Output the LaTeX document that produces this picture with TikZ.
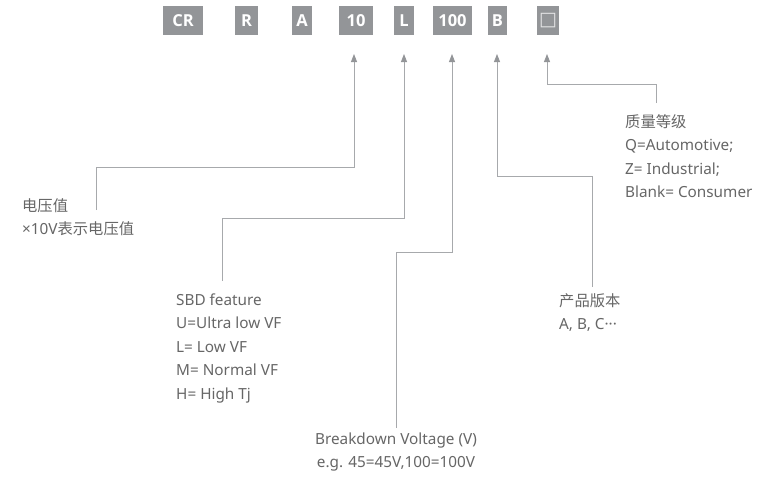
\documentclass[tikz,border=0pt]{standalone}
\usepackage{fontspec}
\setmainfont{Noto Sans}
\newfontfamily\cjk{Noto Sans CJK SC}
\newfontfamily\symf{DejaVu Sans}
\newfontfamily\boxfont{Open Sans}
\usetikzlibrary{arrows.meta}
\definecolor{boxgray}{HTML}{939598}
\definecolor{linegray}{HTML}{A7A9AC}
\definecolor{txtgray}{HTML}{666666}
\begin{document}
\begin{tikzpicture}[x=1pt,y=-1pt,
  codebox/.style={fill=boxgray, text=white, font=\boxfont\fontsize{16.5}{18}\selectfont\bfseries, minimum height=29pt, inner sep=0pt, anchor=center},
  conn/.style={draw=linegray, line width=0.9pt, -{Triangle[length=8pt,width=6pt,color=boxgray]}},
  desc/.style={text=txtgray, font=\fontsize{15.3}{23.5}\selectfont, align=left, inner sep=0pt, anchor=base west}]
\useasboundingbox (0,0) rectangle (768,480);
% code boxes
\node[codebox, minimum width=40pt] (bCR) at (183,20.5) {CR};
\node[codebox, minimum width=23pt] (bR) at (246.5,20.5) {R};
\node[codebox, minimum width=20pt] (bA) at (302,20.5) {A};
\node[codebox, minimum width=34pt] (b10) at (356,20.5) {10};
\node[codebox, minimum width=20pt] (bL) at (404,20.5) {L};
\node[codebox, minimum width=39pt] (b100) at (452.5,20.5) {100};
\node[codebox, minimum width=19pt] (bB) at (497.5,20.5) {B};
\node[codebox, minimum width=22pt, text=white!75!boxgray] (bQ) at (548,20.5) {\symf\mdseries\fontsize{19}{20}\selectfont □};
% descriptions (anchor = baseline of the last line)
\node[desc] (tV) at (22,234.5) {{\cjk 电压值}\\×10V{\cjk 表示电压值}};
\node[desc] (tF) at (176,399) {SBD feature\\U=Ultra low VF\\L= Low VF\\M= Normal VF\\H= High Tj};
\node[desc, align=center, anchor=base] (tBV) at (396,467.5) {Breakdown Voltage (V)\\e.g. 45=45V,100=100V};
\node[desc] (tVer) at (559,329.5) {{\cjk 产品版本}\\A, B, C···};
\node[desc] (tQ) at (625,197.5) {{\cjk 质量等级}\\Q=Automotive;\\Z= Industrial;\\Blank= Consumer};
% connector ends and tips
\coordinate (e1) at (96,210);   \coordinate (k1) at (354,167);  \coordinate (p1) at (354,54);
\coordinate (e2) at (222,281);  \coordinate (k2) at (404,218);  \coordinate (p2) at (404,54);
\coordinate (e3) at (396,428);  \coordinate (k3) at (452,252);  \coordinate (p3) at (452,54);
\coordinate (e4) at (592,287);  \coordinate (k4) at (497,176);  \coordinate (p4) at (497,54);
\coordinate (e5) at (656,103);  \coordinate (k5) at (547,84);   \coordinate (p5) at (547,54);
\draw[conn] (e1) |- (k1) -- (p1);
\draw[conn] (e2) |- (k2) -- (p2);
\draw[conn] (e3) |- (k3) -- (p3);
\draw[conn] (e4) |- (k4) -- (p4);
\draw[conn] (e5) |- (k5) -- (p5);
\end{tikzpicture}
\end{document}
